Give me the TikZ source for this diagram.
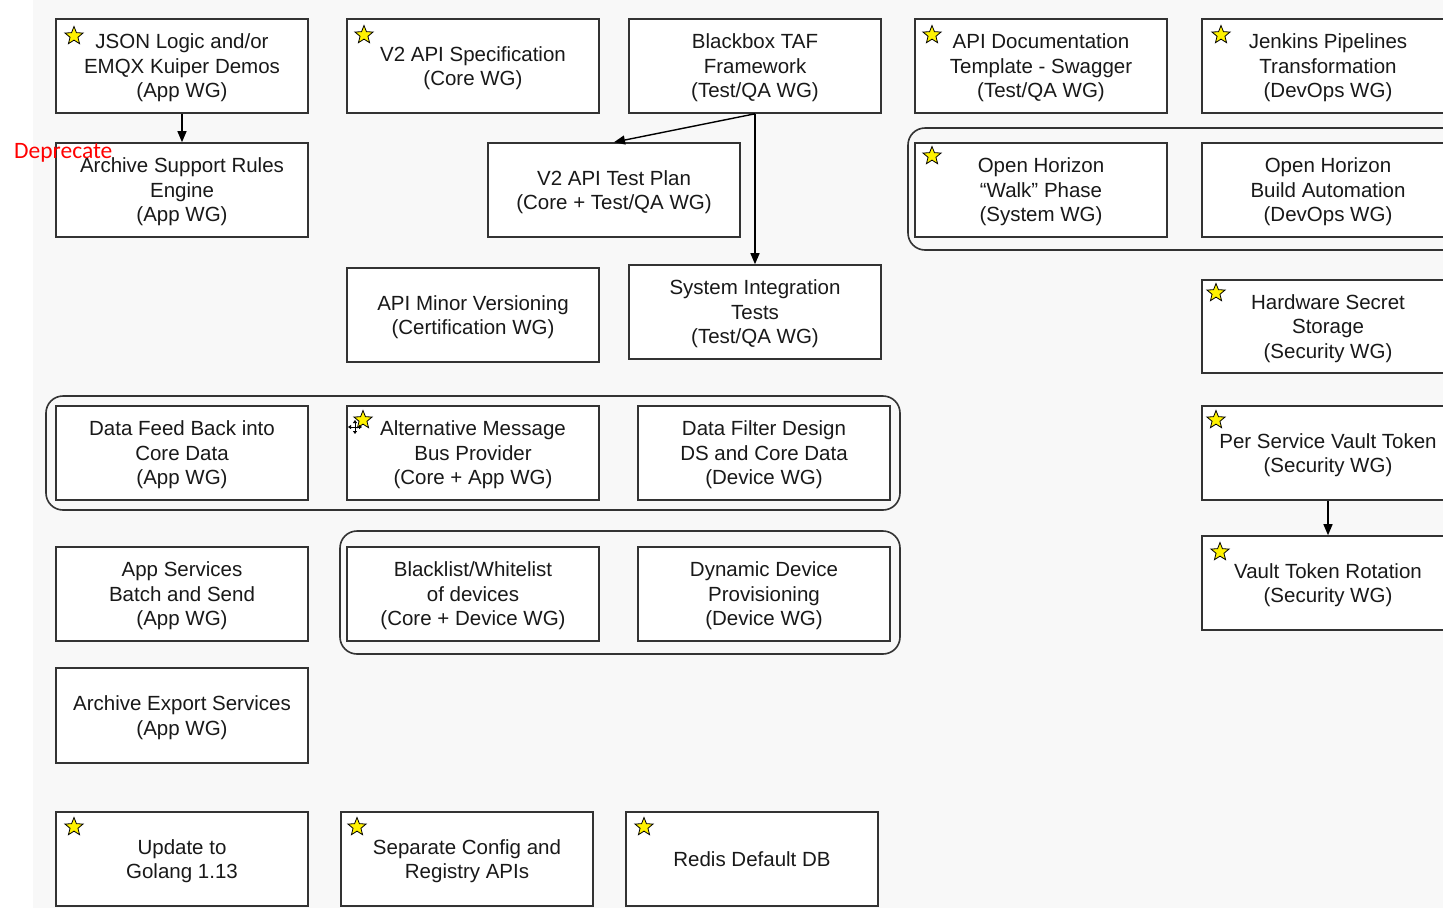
\documentclass[tikz,border=0pt]{standalone}
\usepackage{fontspec}
\setmainfont{Liberation Sans}
\newfontfamily\depfont{Carlito}
\usetikzlibrary{shapes.geometric,arrows.meta}
\definecolor{bordergray}{HTML}{333333}
\definecolor{bggray}{HTML}{F8F8F8}
\tikzset{
  box/.style={draw=bordergray, line width=1.6pt, fill=white, minimum width=252pt, minimum height=94pt,
    align=center, inner sep=0pt, text depth=0pt, font=\fontsize{20.5}{24.5}\selectfont, text=black!90},
  grp/.style={draw=bordergray, line width=1.6pt, rounded corners=17pt},
  starmark/.style={star, star points=5, star point ratio=2.3, fill=yellow, draw=black, line width=0.8pt,
    minimum size=19pt, inner sep=0pt},
  conn/.style={draw=black, line width=1.4pt, -{Triangle[length=11pt,width=9pt]}},
}
\begin{document}
\begin{tikzpicture}[x=1pt,y=-1pt]
\useasboundingbox (0,0) rectangle (1443,908);
\clip (0,0) rectangle (1443,908);
\fill[bggray] (33,0) rectangle (1443,908);
% group frames
\draw[grp] (46,396) rectangle (900,510);
\draw[grp] (340,531) rectangle (900,654);
\draw[grp] (908,128) rectangle (1470,250);
% row 1
\node[box] (json) at (182,66) {JSON Logic and/or\\EMQX Kuiper Demos\\(App WG)};
\node[box] (v2spec) at (473,66) {V2 API Specification\\(Core WG)};
\node[box] (taf) at (755,66) {Blackbox TAF\\Framework\\(Test/QA WG)};
\node[box] (apidoc) at (1041,66) {API Documentation\\Template - Swagger\\(Test/QA WG)};
\node[box] (jenkins) at (1328,66) {Jenkins Pipelines\\Transformation\\(DevOps WG)};
% row 2
\node[box] (archsup) at (182,190) {Archive Support Rules\\Engine\\(App WG)};
\node[box] (v2test) at (614,190) {V2 API Test Plan\\(Core + Test/QA WG)};
\node[box] (ohwalk) at (1041,190) {Open Horizon\\“Walk” Phase\\(System WG)};
\node[box] (ohbuild) at (1328,190) {Open Horizon\\Build Automation\\(DevOps WG)};
% row 3
\node[box] (minorver) at (473,315) {API Minor Versioning\\(Certification WG)};
\node[box] (sit) at (755,312) {System Integration\\Tests\\(Test/QA WG)};
\node[box, minimum height=93pt] (hwsecret) at (1328,326.5) {Hardware Secret\\Storage\\(Security WG)};
% row 4
\node[box] (datafeed) at (182,453) {Data Feed Back into\\Core Data\\(App WG)};
\node[box] (altmsg) at (473,453) {Alternative Message\\Bus Provider\\(Core + App WG)};
\node[box] (datafilter) at (764,453) {Data Filter Design\\DS and Core Data\\(Device WG)};
\node[box] (perservice) at (1328,453) {Per Service Vault Token\\(Security WG)};
% row 5
\node[box] (appsvc) at (182,594) {App Services\\Batch and Send\\(App WG)};
\node[box] (blacklist) at (473,594) {Blacklist/Whitelist\\of devices\\(Core + Device WG)};
\node[box] (dyndev) at (764,594) {Dynamic Device\\Provisioning\\(Device WG)};
\node[box] (vaultrot) at (1328,583) {Vault Token Rotation\\(Security WG)};
% row 6
\node[box, minimum height=95pt] (archexp) at (182,715.5) {Archive Export Services\\(App WG)};
% row 7
\node[box] (golang) at (182,859) {Update to\\Golang 1.13};
\node[box] (sepconfig) at (467,859) {Separate Config and\\Registry APIs};
\node[box] (redis) at (752,859) {Redis Default DB};
% stars
\node[starmark] (s1) at (74,36) {};
\node[starmark] (s2) at (364,35) {};
\node[starmark] (s3) at (932,35) {};
\node[starmark] (s4) at (1221,35) {};
\node[starmark] (s5) at (932,156) {};
\node[starmark] (s6) at (1216,293) {};
\node[starmark] (s7) at (363,420) {};
\node[starmark] (s8) at (1216,420) {};
\node[starmark] (s9) at (1220,552) {};
\node[starmark] (s10) at (74,827) {};
\node[starmark] (s11) at (357,827) {};
\node[starmark] (s12) at (644,827) {};
% move cursor icon
\coordinate (mv) at (355,427);
\foreach \dx/\dy in {0/-7,0/7,-7/0,7/0}
  \draw[black, line width=0.9pt, -{Triangle[length=3pt,width=4pt]}] (mv) -- ++(\dx,\dy);
% connectors
\draw[conn] (json.south) -- (archsup.north);
\draw[conn] (taf.south) -- (v2test.north);
\draw[conn] (taf.south) -- (sit.north);
\draw[conn] (perservice.south) -- (vaultrot.north);
% deprecate label
\node[anchor=base west, inner sep=0pt, text=red, font=\depfont\fontsize{23.5}{28}\selectfont] (dep) at (14,158) {Deprecate};
\end{tikzpicture}
\end{document}
